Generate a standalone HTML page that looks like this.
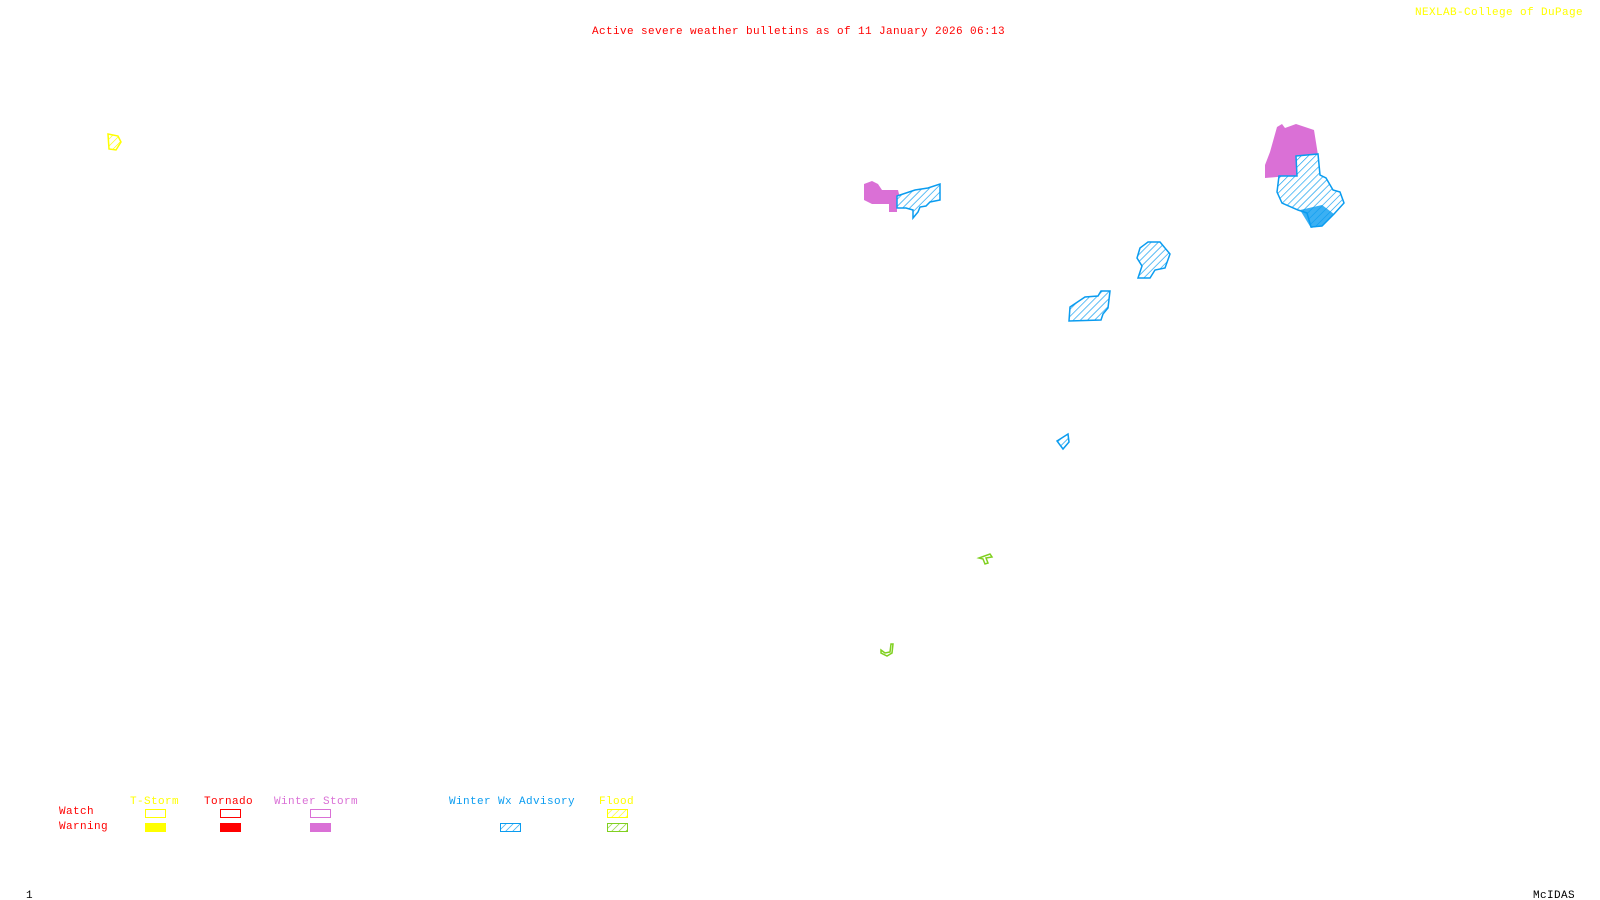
<!DOCTYPE html>
<html><head><meta charset="utf-8"><style>
html,body{margin:0;padding:0;background:#fff;width:1600px;height:900px;overflow:hidden}
svg{display:block}
text{font-family:"Liberation Mono",monospace;font-size:11px;letter-spacing:0.4px}
</style></head><body>
<svg width="1600" height="900" xmlns="http://www.w3.org/2000/svg">
<defs>
<pattern id="hb" width="5" height="5" patternUnits="userSpaceOnUse" patternTransform="rotate(45)"><rect width="5" height="5" fill="#fff"/><line x1="0" y1="0" x2="0" y2="5" stroke="#0a9cf0" stroke-width="1.3"/></pattern>
<pattern id="hg" width="5" height="5" patternUnits="userSpaceOnUse" patternTransform="rotate(45)"><rect width="5" height="5" fill="#fff"/><line x1="0" y1="0" x2="0" y2="5" stroke="#80d020" stroke-width="1.3"/></pattern>
<pattern id="hy" width="5" height="5" patternUnits="userSpaceOnUse" patternTransform="rotate(45)"><rect width="5" height="5" fill="#fff"/><line x1="0" y1="0" x2="0" y2="5" stroke="#ffff00" stroke-width="1.3"/></pattern>
</defs>
<text x="592" y="34" fill="#ff0000">Active severe weather bulletins as of 11 January 2026 06:13</text>
<text x="1415" y="15" fill="#ffff00" letter-spacing="1">NEXLAB-College of DuPage</text>
<text x="26" y="898" fill="#000">1</text>
<text x="1533" y="898" fill="#000" letter-spacing="0.7">McIDAS</text>

<path d="M108,134 L118,136 L121,142 L116,150 L109,149 Z" fill="url(#hy)" stroke="#ffff00" stroke-width="1.5"/>
<path d="M864,184 L872,181 L878,184 L882,190 L898,190 L900,198 L897,198 L897,212 L889,212 L889,204 L872,204 L864,200 Z" fill="#da70d6"/>
<path d="M897,196 L915,190 L928,188 L940,184 L940,200 L930,202 L926,206 L920,207 L918,212 L913,218 L913,210 L906,208 L897,208 Z" fill="url(#hb)" stroke="#0a9cf0" stroke-width="1.5"/>
<path d="M1277,127 L1282,124 L1285,128 L1296,124 L1314,130 L1318,155 L1296,158 L1298,176 L1277,177 L1265,178 L1265,165 L1270,152 Z" fill="#da70d6"/>
<path d="M1296,156 L1318,154 L1320,175 L1326,178 L1333,190 L1340,192 L1344,203 L1334,214 L1322,226 L1311,227 L1307,213 L1298,210 L1282,203 L1277,192 L1279,176 L1297,176 Z" fill="url(#hb)" stroke="#0a9cf0" stroke-width="1.5"/>
<path d="M1300,210 L1322,205 L1334,214 L1322,226 L1311,228 Z" fill="#0a9cf0" opacity="0.8"/>
<path d="M1140,248 L1148,242 L1160,242 L1170,254 L1165,268 L1155,270 L1150,278 L1138,278 L1142,266 L1137,258 Z" fill="url(#hb)" stroke="#0a9cf0" stroke-width="1.5"/>
<path d="M1070,307 L1085,297 L1098,296 L1101,291 L1110,291 L1108,308 L1103,314 L1101,320 L1069,321 Z" fill="url(#hb)" stroke="#0a9cf0" stroke-width="1.5"/>
<path d="M1057,441 L1068,434 L1069,442 L1063,449 Z" fill="url(#hb)" stroke="#0a9cf0" stroke-width="1.5"/>
<path d="M979,558 L990,554 L992,557 L986,558 L988,563 L985,564 L983,559 Z" fill="none" stroke="#80d020" stroke-width="1.5"/>
<path d="M881,650 L885,653 L890,652 L891,644 L893,644 L892,653 L887,656 L881,653 Z" fill="none" stroke="#80d020" stroke-width="1.5"/>

<text x="59" y="814" fill="#ff0000">Watch</text>
<text x="59" y="829" fill="#ff0000">Warning</text>
<text x="130" y="804" fill="#ffff00">T-Storm</text>
<text x="204" y="804" fill="#ff0000">Tornado</text>
<text x="274" y="804" fill="#da70d6">Winter Storm</text>
<text x="449" y="804" fill="#0a9cf0">Winter Wx Advisory</text>
<text x="599" y="804" fill="#ffff00">Flood</text>
<rect x="145.5" y="809.5" width="20" height="8" fill="none" stroke="#ffff00" stroke-width="1"/>
<rect x="145" y="823" width="21" height="9" fill="#ffff00"/>
<rect x="220.5" y="809.5" width="20" height="8" fill="none" stroke="#ff0000" stroke-width="1"/>
<rect x="220" y="823" width="21" height="9" fill="#ff0000"/>
<rect x="310.5" y="809.5" width="20" height="8" fill="none" stroke="#da70d6" stroke-width="1"/>
<rect x="310" y="823" width="21" height="9" fill="#da70d6"/>
<rect x="500.5" y="823.5" width="20" height="8" fill="url(#hb)" stroke="#0a9cf0" stroke-width="1"/>
<rect x="607.5" y="809.5" width="20" height="8" fill="url(#hy)" stroke="#ffff00" stroke-width="1"/>
<rect x="607.5" y="823.5" width="20" height="8" fill="url(#hg)" stroke="#80d020" stroke-width="1"/>
</svg>
</body></html>
